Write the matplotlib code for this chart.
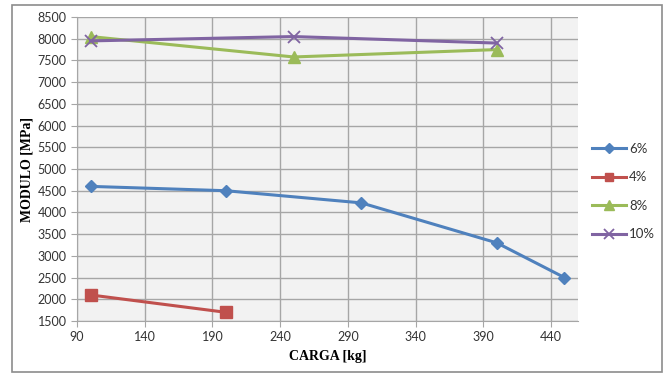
import matplotlib
matplotlib.use("Agg")
import matplotlib.pyplot as plt
from matplotlib.patches import Rectangle

# ── Data ──
x_6 = [100, 200, 300, 400, 450]
y_6 = [4600, 4500, 4220, 3300, 2500]
x_4 = [100, 200]
y_4 = [2100, 1700]
x_8 = [100, 250, 400]
y_8 = [8050, 7580, 7750]
x_10 = [100, 250, 400]
y_10 = [7950, 8050, 7900]

x_ticks = [90, 140, 190, 240, 290, 340, 390, 440]
y_ticks = list(range(1500, 8501, 500))

fig = plt.figure(figsize=(6.67, 3.74), dpi=100)
fig.patch.set_facecolor("white")
fig.patches.append(Rectangle((0.018, 0.005), 0.9745, 0.9816, transform=fig.transFigure,
                             fill=False, edgecolor="#8c8c8c", linewidth=1.2))

ax = fig.add_axes([0.1154, 0.1417, 0.7512, 0.8128])
ax.set_facecolor("#f2f2f2")

ax.plot(x_6, y_6, color="#4f81bd", lw=2.2, marker="D", ms=6.5, label="6%")
ax.plot(x_4, y_4, color="#c0504d", lw=2.2, marker="s", ms=8, label="4%")
ax.plot(x_8, y_8, color="#9bbb59", lw=2.2, marker="^", ms=9, label="8%")
ax.plot(x_10, y_10, color="#8064a2", lw=2.2, marker="x", ms=9, mew=1.3, label="10%")

ax.set_xlim(90, 460)
ax.set_ylim(1500, 8500)
ax.set_xticks(x_ticks)
ax.set_yticks(y_ticks)
ax.grid(True, color="#a6a6a6", linewidth=1.0)
ax.set_axisbelow(True)

for s in ["top", "right"]:
    ax.spines[s].set_visible(False)
for s in ["left", "bottom"]:
    ax.spines[s].set_color("#a6a6a6")
ax.tick_params(colors="#a6a6a6", labelcolor="#333333", labelsize=9, length=4)
for lbl in ax.get_xticklabels() + ax.get_yticklabels():
    lbl.set_family("Lato")

ax.set_xlabel("CARGA [kg]", family="Liberation Serif", fontweight="bold", fontsize=10, labelpad=5)
ax.set_ylabel("MODULO [MPa]", family="Liberation Serif", fontweight="bold", fontsize=10, labelpad=3)

leg = fig.legend(loc="upper left", bbox_to_anchor=(0.87, 0.65), frameon=False,
                 prop={"family": "Lato", "size": 9.5}, handlelength=2.6, markerscale=0.75,
                 labelspacing=1.25, handletextpad=0.2)
for t in leg.get_texts():
    t.set_color("#333333")

fig.savefig("out.png", dpi=100)
